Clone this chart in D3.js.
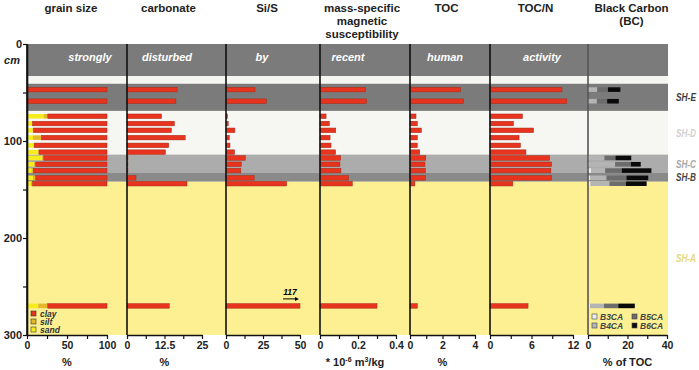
<!DOCTYPE html>
<html>
<head>
<meta charset="utf-8">
<script src="https://cdn.jsdelivr.net/npm/d3@7"></script>
<style>
body { margin: 0; background: #fff; }
text { font-family: "Liberation Sans", Arial, sans-serif; font-weight: bold; }
</style>
</head>
<body>
<svg id="chart" width="699" height="370"></svg>
<script>
// sample depths (cm)
var depths = [47, 59, 74.5, 82, 89, 96.5, 104.5, 111.5, 117.5, 124, 130.5, 138, 144, 270];

// grain size (%)
var sand = [0, 0, 21, 6, 7, 7.5, 8, 14, 19, 9, 6, 8, 5, 14];
var silt = [1, 1, 5, 1, 1, 10.5, 1, 1, 2, 2, 2, 3, 2, 12];
var clay = [99, 99, 74, 93, 92, 82, 91, 85, 79, 89, 92, 89, 93, 74];

var carbonate = [16.7, 16.3, 11.5, 15.8, 14.8, 19.4, 13.9, 12.8, 0.3, 0.3, 0.3, 3, 20, 14.1];
var siS = [19.6, 27.2, 1, 1.5, 6, 2.2, 2.7, 5.8, 13, 10.4, 10, 19, 41, 117];
var magSus = [0.24, 0.245, 0.032, 0.049, 0.083, 0.053, 0.058, 0.082, 0.109, 0.105, 0.11, 0.15, 0.17, 0.3];
var toc = [3.1, 3.3, 0.37, 0.45, 0.7, 0.45, 0.45, 0.6, 0.97, 0.92, 0.95, 0.95, 0.3, 0.45];
var tocN = [10.4, 11.1, 4.7, 3.4, 6.3, 4.2, 4.4, 5.2, 8.6, 8.9, 8.8, 8.9, 3.3, 5.5];

// black carbon (% of TOC), no values in SH-D
var b3ca = [0.5, 0.5, null, null, null, null, null, null, 0.7, 0.7, 1.5, 1, 1.2, 1];
var b4ca = [4.2, 4, null, null, null, null, null, null, 7.6, 13, 7.2, 8.4, 9.6, 7.1];
var b5ca = [5.4, 5.2, null, null, null, null, null, null, 5.6, 8, 8.4, 10.1, 8.4, 7.2];
var b6ca = [6.3, 5.9, null, null, null, null, null, null, 8, 5, 15, 11, 10.5, 8.4];

// depth zones (cm)
var zoneNames = ["", "", "SH-E", "SH-D", "SH-C", "SH-B", "SH-A"];
var zoneTop = [0, 33, 41, 69, 114, 133, 142];
var zoneBottom = [33, 41, 69, 114, 133, 142, 300];

var bandWords = ["strongly", "disturbed", "by", "recent", "human", "activity"];

// styles
var zoneFill = ["#7b7b7b", "#f4f4f0", "#7b7b7b", "#f6f6f2", "#acacac", "#8a8a8a", "#fcf093"];
var zoneText = ["", "", "#3c3c3c", "#d0d0d0", "#a6a6a6", "#454545", "#e4d87a"];
var red = "#e8341f", redStroke = "#a02a18";
var sandCol = "#f6ec1e", siltCol = "#e5b82a";
var bcCols = ["#eeeeee", "#b4b4b4", "#6c6c6c", "#0a0a0a"];

var svg = d3.select("#chart");
var yTop = 44, yBottom = 335;
var y = d3.scaleLinear().domain([0, 300]).range([yTop, yBottom]);
var barH = 4.6;

// panel layout
var panels = [
	{ key: "grain", title: ["grain size"], unit: "%", domain: [0, 100], r: [27, 107], ticks: [0, 25, 50, 75, 100], labels: [0, 50, 100], wordX: 90 },
	{ key: "carb", title: ["carbonate"], unit: "%", domain: [0, 25], r: [127, 202], ticks: [0, 6.25, 12.5, 18.75, 25], labels: [0, 12.5, 25], wordX: 167 },
	{ key: "sis", title: ["Si/S"], unit: "", domain: [0, 50], r: [226, 300], ticks: [0, 12.5, 25, 37.5, 50], labels: [0, 25, 50], wordX: 262 },
	{ key: "mag", title: ["mass-specific", "magnetic", "susceptibility"], unit: "mag", domain: [0, 0.4], r: [320, 396], ticks: [0, 0.1, 0.2, 0.3, 0.4], labels: [0, 0.2, 0.4], wordX: 348 },
	{ key: "toc", title: ["TOC"], unit: "%", domain: [0, 4], r: [410, 475], ticks: [0, 1, 2, 3, 4], labels: [0, 2, 4], wordX: 445 },
	{ key: "tocn", title: ["TOC/N"], unit: "", domain: [0, 12], r: [490, 573], ticks: [0, 3, 6, 9, 12], labels: [0, 6, 12], wordX: 542 },
	{ key: "bc", title: ["Black Carbon", "(BC)"], unit: "% of TOC", domain: [0, 40], r: [588, 667], ticks: [0, 10, 20, 30, 40], labels: [0, 20, 40] }
];
panels.forEach(function(p) {
	p.x = d3.scaleLinear().domain(p.domain).range(p.r).clamp(true);
});

var left = 27, right = 668;

//Zones
zoneNames.forEach(function(n, i) {
	svg.append("rect")
		.attr("x", left).attr("width", right - left)
		.attr("y", y(zoneTop[i]))
		.attr("height", y(zoneBottom[i]) - y(zoneTop[i]))
		.attr("fill", zoneFill[i]);
	if (n) {
		svg.append("text")
			.attr("x", 676)
			.attr("y", (y(zoneTop[i]) + y(zoneBottom[i])) / 2 + 4)
			.attr("font-size", 10)
			.attr("font-style", "italic")
			.attr("textLength", 20)
			.attr("lengthAdjust", "spacingAndGlyphs")
			.attr("fill", zoneText[i])
			.text(n);
	}
});

//Words in the top band
panels.forEach(function(p, i) {
	if (!bandWords[i]) return;
	svg.append("text")
		.attr("x", p.wordX).attr("y", 61)
		.attr("text-anchor", "middle")
		.attr("font-size", 11)
		.attr("font-style", "italic")
		.attr("fill", "#fff")
		.text(bandWords[i]);
});

//Simple bars
function simpleBars(p, vals) {
	svg.append("g").selectAll("rect")
		.data(depths.map(function(d, i) { return { d: d, v: vals[i] }; }).filter(function(o) { return o.v != null; }))
		.enter().append("rect")
		.attr("x", p.x(0))
		.attr("y", function(o) { return y(o.d) - barH / 2; })
		.attr("width", function(o) { return p.x(o.v) - p.x(0); })
		.attr("height", barH)
		.attr("fill", red)
		.attr("stroke", redStroke)
		.attr("stroke-width", 0.5);
}

//Stacked bars
function stackBars(p, series, cols) {
	depths.forEach(function(d, i) {
		if (series[0][i] == null) return;
		var acc = 0;
		series.forEach(function(s, k) {
			svg.append("rect")
				.attr("x", p.x(acc))
				.attr("y", y(d) - barH / 2)
				.attr("width", p.x(acc + s[i]) - p.x(acc))
				.attr("height", barH)
				.attr("fill", cols[k])
				.attr("stroke", cols[k] === red ? redStroke : "none")
				.attr("stroke-width", 0.5);
			acc += s[i];
		});
	});
}

stackBars(panels[0], [sand, silt, clay], [sandCol, siltCol, red]);
simpleBars(panels[1], carbonate);
simpleBars(panels[2], siS);
simpleBars(panels[3], magSus);
simpleBars(panels[4], toc);
simpleBars(panels[5], tocN);
stackBars(panels[6], [b3ca, b4ca, b5ca, b6ca], bcCols);

//Off-scale label for Si/S
var lastD = depths[depths.length - 1];
svg.append("text")
	.attr("x", 290).attr("y", y(lastD) - 11)
	.attr("text-anchor", "middle")
	.attr("font-size", 8.5)
	.attr("font-style", "italic")
	.text(siS[siS.length - 1]);
svg.append("line")
	.attr("x1", 283).attr("x2", 295)
	.attr("y1", y(lastD) - 7).attr("y2", y(lastD) - 7)
	.attr("stroke", "#000").attr("stroke-width", 1);
svg.append("path")
	.attr("d", "M295," + (y(lastD) - 9) + " L299," + (y(lastD) - 7) + " L295," + (y(lastD) - 5) + "Z")
	.attr("fill", "#000");

//Vertical separators
panels.forEach(function(p, i) {
	svg.append("line")
		.attr("x1", p.r[0]).attr("x2", p.r[0])
		.attr("y1", yTop).attr("y2", yBottom)
		.attr("stroke", i === 6 ? "#555" : "#111")
		.attr("stroke-width", 1.6);
});

//Bottom axes
panels.forEach(function(p) {
	var ax = svg.append("g")
		.attr("transform", "translate(0," + yBottom + ")")
		.call(d3.axisBottom(p.x).tickValues(p.ticks).tickSize(4).tickSizeOuter(0)
			.tickFormat(function(d) { return p.labels.indexOf(d) >= 0 ? d : ""; }));
	ax.select(".domain").attr("stroke", "#111").attr("stroke-width", 1.6);
	ax.selectAll(".tick line").attr("stroke", "#111").attr("stroke-width", 1.2);
	ax.selectAll(".tick text")
		.attr("font-size", 10.5).attr("font-family", null).attr("fill", "#222").attr("y", 7);

	var cx = (p.r[0] + p.r[1]) / 2;
	// header
	p.title.forEach(function(t, k) {
		svg.append("text")
			.attr("x", cx + 4).attr("y", 12 + k * 13)
			.attr("text-anchor", "middle")
			.attr("font-size", 11.5)
			.attr("fill", "#222")
			.text(t);
	});
	// unit
	if (p.unit === "mag") {
		var u = svg.append("text")
			.attr("x", cx - 3).attr("y", 366)
			.attr("text-anchor", "middle")
			.attr("font-size", 11)
			.attr("fill", "#222");
		u.append("tspan").text("* 10");
		u.append("tspan").attr("dy", -4).attr("font-size", 7).text("-6");
		u.append("tspan").attr("dy", 4).text(" m");
		u.append("tspan").attr("dy", -4).attr("font-size", 7).text("3");
		u.append("tspan").attr("dy", 4).text("/kg");
	} else if (p.unit) {
		svg.append("text")
			.attr("x", cx).attr("y", 366)
			.attr("text-anchor", "middle")
			.attr("font-size", 11)
			.attr("fill", "#222")
			.text(p.unit);
	}
});

//Depth axis
var yAx = svg.append("g")
	.attr("transform", "translate(" + left + ",0)")
	.call(d3.axisLeft(y).tickValues([0, 50, 100, 150, 200, 250, 300]).tickSize(4).tickSizeOuter(0)
		.tickFormat(function(d) { return d % 100 === 0 ? d : ""; }));
yAx.select(".domain").attr("stroke", "#111").attr("stroke-width", 1.6);
yAx.selectAll(".tick line").attr("stroke", "#111").attr("stroke-width", 1.2);
yAx.selectAll(".tick text").attr("font-size", 11).attr("font-family", null).attr("fill", "#222").attr("x", -5);
svg.append("text")
	.attr("x", 12).attr("y", 64)
	.attr("text-anchor", "middle")
	.attr("font-size", 11)
	.attr("font-style", "italic")
	.attr("fill", "#222")
	.text("cm");

//Grain size legend
var gLeg = [["clay", red], ["silt", siltCol], ["sand", sandCol]];
gLeg.forEach(function(l, i) {
	var ly = 314 + i * 8;
	svg.append("rect")
		.attr("x", 31).attr("y", ly - 3)
		.attr("width", 5).attr("height", 5)
		.attr("fill", l[1]).attr("stroke", "#333").attr("stroke-width", 0.6);
	svg.append("text")
		.attr("x", 40).attr("y", ly + 2.5)
		.attr("font-size", 8.5)
		.attr("font-style", "italic")
		.attr("fill", "#333")
		.text(l[0]);
});

//Black carbon legend
var bcLeg = ["B3CA", "B4CA", "B5CA", "B6CA"];
bcLeg.forEach(function(n, i) {
	var lx = 592 + Math.floor(i / 2) * 40;
	var ly = 317 + (i % 2) * 9;
	svg.append("rect")
		.attr("x", lx).attr("y", ly - 3)
		.attr("width", 5).attr("height", 5)
		.attr("fill", bcCols[i]).attr("stroke", "#444").attr("stroke-width", 0.6);
	svg.append("text")
		.attr("x", lx + 8).attr("y", ly + 2.5)
		.attr("font-size", 8.5)
		.attr("font-style", "italic")
		.attr("fill", "#444")
		.text(n);
});
</script>
</body>
</html>
